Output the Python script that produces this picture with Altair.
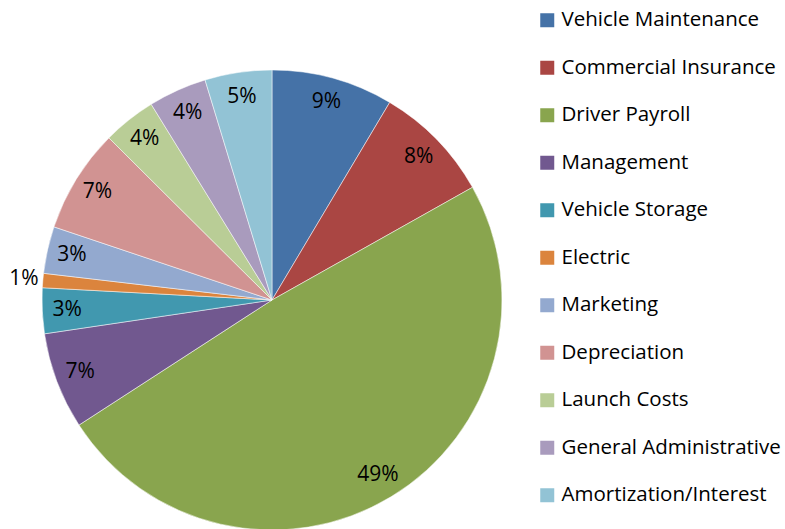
import altair as alt
import pandas as pd

categories = ["Vehicle Maintenance", "Commercial Insurance", "Driver Payroll", "Management",
              "Vehicle Storage", "Electric", "Marketing", "Depreciation", "Launch Costs",
              "General Administrative", "Amortization/Interest"]
values = [8.55, 8.3, 49.0, 6.8, 3.2, 1.0, 3.3, 7.3, 3.75, 4.1, 4.7]
colors = ["#4572A7", "#AA4643", "#89A54E", "#71588F", "#4198AF", "#DB843D",
          "#93A9CF", "#D19392", "#B9CD96", "#A99BBD", "#92C3D5"]

df = pd.DataFrame({"category": categories, "value": values, "idx": list(range(len(categories)))})
df["label"] = [f"{round(v)}%" for v in values]

FONT = "Open Sans"

base = alt.Chart(df).encode(
    theta=alt.Theta("value:Q", stack=True),
    order=alt.Order("idx:Q"),
)

pie = base.mark_arc(outerRadius=230, stroke="white", strokeWidth=0.5).encode(
    x=alt.value(272), y=alt.value(300),
    color=alt.Color("category:N", scale=alt.Scale(domain=categories, range=colors),
                    sort=categories,
                    legend=alt.Legend(title=None, orient="none", legendX=537, legendY=10,
                                      symbolType="square", symbolSize=196, symbolStrokeWidth=0,
                                      labelFont=FONT, labelFontSize=20.5, labelColor="#000000",
                                      labelLimit=400, rowPadding=26.5, symbolOffset=0,
                                      labelOffset=4)),
)

labels_in = base.mark_text(radius=205, font=FONT, fontSize=21, color="black").encode(
    x=alt.value(272), y=alt.value(300),
    text="label:N",
    opacity=alt.condition("datum.value >= 1.5", alt.value(1), alt.value(0)),
)
labels_out = base.mark_text(radius=249, font=FONT, fontSize=21, color="black").encode(
    x=alt.value(272), y=alt.value(300),
    text="label:N",
    opacity=alt.condition("datum.value < 1.5", alt.value(1), alt.value(0)),
)

chart = alt.layer(pie, labels_in, labels_out).properties(
    width=785, height=529, padding=0, autosize="none"
).configure_view(stroke=None)

chart.save("out.html", embed_options={"renderer": "svg", "actions": False})
